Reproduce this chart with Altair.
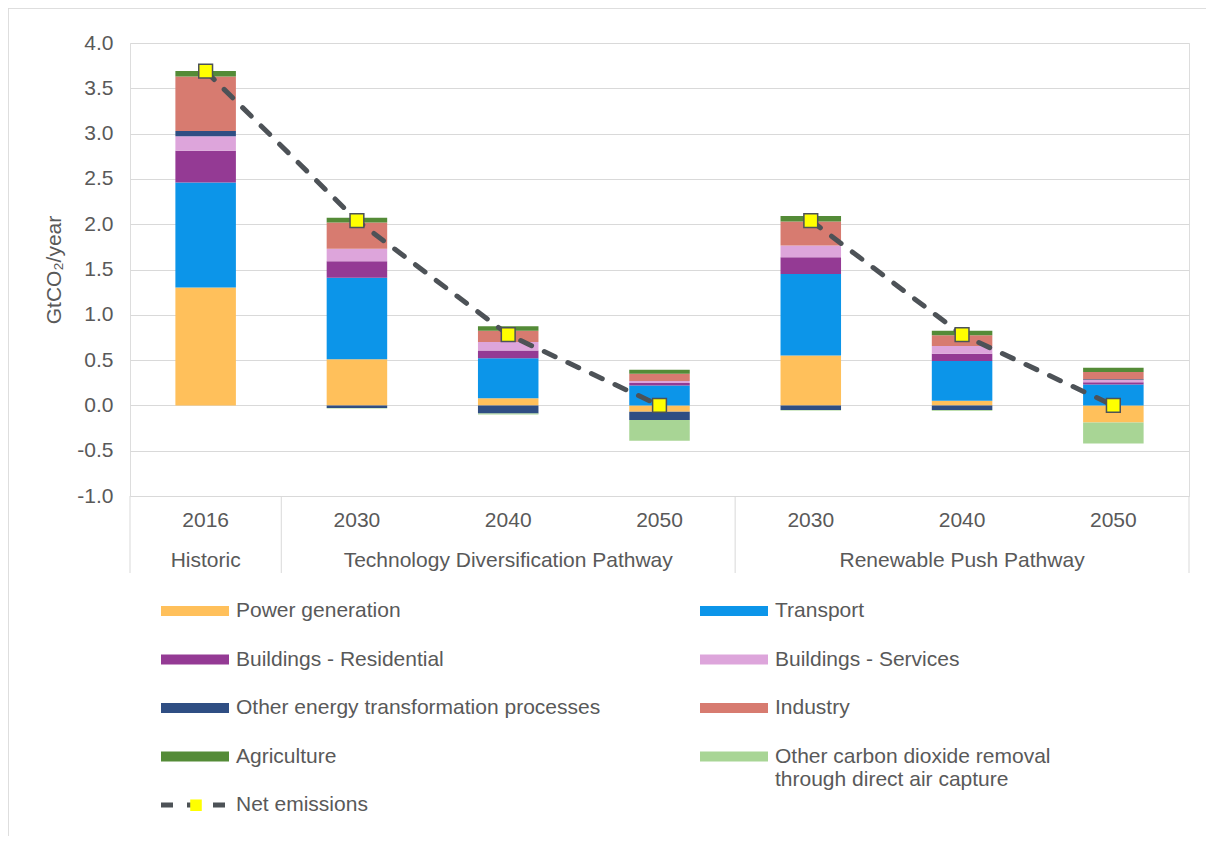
import altair as alt
import pandas as pd

# ---------------- data ----------------
categories = ["H2016", "T2030", "T2040", "T2050", "R2030", "R2040", "R2050"]
years = ["2016", "2030", "2040", "2050", "2030", "2040", "2050"]
groups = ["Historic", "Technology Diversification Pathway", "Renewable Push Pathway"]
group_center_cat = ["H2016", "T2040", "R2040"]
group_start_cat = ["H2016", "T2030", "R2030"]
group_end_cat = ["R2050"]

sectors = [
    "Power generation",
    "Transport",
    "Buildings - Residential",
    "Buildings - Services",
    "Other energy transformation processes",
    "Industry",
    "Agriculture",
    "Other carbon dioxide removal through direct air capture",
]
colors = ["#FFC05B", "#0C95E9", "#943A94", "#DDA5DB", "#2F4E83", "#D77B70", "#548B37", "#A8D595"]
# legend fills column by column: left column first, then right column
legend_order = [0, 2, 4, 6, 1, 3, 5, 7]

power = [1.30, 0.51, 0.08, -0.07, 0.55, 0.05, -0.19]
transport = [1.16, 0.90, 0.44, 0.22, 0.90, 0.44, 0.23]
residential = [0.35, 0.18, 0.085, 0.026, 0.185, 0.08, 0.025]
services = [0.16, 0.14, 0.095, 0.022, 0.13, 0.085, 0.025]
other_energy = [0.06, -0.03, -0.09, -0.09, -0.05, -0.05, 0.01]
industry = [0.60, 0.29, 0.125, 0.08, 0.265, 0.12, 0.08]
agriculture = [0.06, 0.05, 0.05, 0.045, 0.06, 0.05, 0.045]
dac = [0.0, -0.005, -0.01, -0.23, -0.005, -0.01, -0.23]

net = [3.69, 2.04, 0.78, 0.0, 2.04, 0.78, 0.0]
net_series = ["A", "A", "A", "A", "B", "B", "B"]

y_ticks = [-1.0, -0.5, 0.0, 0.5, 1.0, 1.5, 2.0, 2.5, 3.0, 3.5, 4.0]

# ---------------- tables ----------------
series_vals = [power, transport, residential, services, other_energy, industry, agriculture, dac]
rows = []
for i, c in enumerate(categories):
    for j, (s, vals) in enumerate(zip(sectors, series_vals)):
        rows.append({"cat": c, "sector": s, "idx": j, "value": vals[i]})
df = pd.DataFrame(rows)

net_df = pd.DataFrame({"cat": categories, "net": net, "series": net_series,
                       "lbl": ["Net emissions"] * len(categories),
                       "mk": ["marker"] * len(categories)})
year_df = pd.DataFrame({"cat": categories, "year": years})
group_df = pd.DataFrame({"cat": group_center_cat, "grp": groups})
start_df = pd.DataFrame({"cat": group_start_cat})
end_df = pd.DataFrame({"cat": group_end_cat})

# ---------------- styling ----------------
W, H = 1059, 453
FONT = "Liberation Sans"
TXT = "#595959"
GRID = "#D9D9D9"
DARK = "#4D5257"
FS = 21

x_scale = alt.Scale(domain=categories, paddingInner=0, paddingOuter=0)
y_scale = alt.Scale(domain=[-1, 4], nice=False, zero=False)
y_axis = alt.Axis(values=y_ticks, format=".1f", labelExpr="replace(datum.label, '\u2212', '-')",
                  labelFont=FONT, labelFontSize=FS, labelColor=TXT, labelPadding=17,
                  ticks=False, domain=False, gridColor=GRID, gridWidth=1,
                  title="GtCO\u2082/year", titleFont=FONT, titleFontSize=FS, titleFontWeight="normal",
                  titleColor=TXT, titlePadding=12)

def xenc(band_pos=None):
    if band_pos is None:
        return alt.X("cat:N", scale=x_scale, axis=None)
    return alt.X("cat:N", scale=x_scale, axis=None, bandPosition=band_pos)

LEG_X = 31
LEG_Y = 534
ROW = 48.5

bars = alt.Chart(df).mark_bar(width=alt.RelativeBandSize(0.4)).encode(
    x=xenc(),
    y=alt.Y("value:Q", stack="zero", scale=y_scale, axis=y_axis),
    color=alt.Color(
        "sector:N",
        scale=alt.Scale(domain=[sectors[k] for k in legend_order],
                        range=[colors[k] for k in legend_order]),
        legend=alt.Legend(
            title=None, orient="none", legendX=LEG_X, legendY=LEG_Y, columns=2,
            columnPadding=99, rowPadding=4.5, padding=0,
            symbolType="M-1,-0.15H1V0.15H-1Z", symbolSize=4624, symbolStrokeWidth=0,
            symbolOpacity=1, labelFont=FONT, labelFontSize=FS, labelColor=TXT,
            labelOffset=7, labelLimit=700,
            labelExpr="datum.label == 'Other carbon dioxide removal through direct air capture' ? "
                      "['Other carbon dioxide removal', 'through direct air capture'] : datum.label",
        ),
    ),
    order=alt.Order("idx:Q", sort="ascending"),
)

# symbol centre of the 5th legend row, relative to the plot origin
NET_CY = LEG_Y + 34 + 4 * ROW

line = alt.Chart(net_df).mark_line(strokeWidth=5, strokeCap="round", color=DARK).encode(
    x=xenc(),
    y=alt.Y("net:Q", scale=y_scale, axis=y_axis),
    detail="series:N",
    strokeDash=alt.StrokeDash(
        "lbl:N",
        scale=alt.Scale(domain=["Net emissions"], range=[[12, 14]]),
        legend=alt.Legend(
            title=None, orient="none", legendX=LEG_X - 2.5, legendY=NET_CY - 36.5, padding=0,
            symbolType="stroke", symbolSize=4624, symbolStrokeWidth=5, symbolStrokeColor=DARK,
            symbolDash=[13, 5.3], symbolDashOffset=0,
            symbolOpacity=1, labelFont=FONT, labelFontSize=FS, labelColor=TXT, labelOffset=4.5,
        ),
    ),
)

points = alt.Chart(net_df).mark_point(filled=True, fill="#FFFF00", stroke=DARK, strokeWidth=1.5,
                                      size=190, shape="square").encode(
    x=xenc(),
    y=alt.Y("net:Q", scale=y_scale, axis=y_axis),
    opacity=alt.Opacity(
        "mk:N",
        scale=alt.Scale(domain=["marker"], range=[1]),
        legend=alt.Legend(
            title=None, orient="none", legendX=LEG_X, legendY=NET_CY - 34.75, padding=0,
            symbolType="M-0.17,-0.17H0.17V0.17H-0.17Z", symbolSize=4624,
            symbolFillColor="#FFFF00", symbolStrokeColor=DARK, symbolStrokeWidth=1.5,
            labelFont=FONT, labelFontSize=FS, labelColor=TXT, labelOffset=7,
            labelExpr="''",
        ),
    ),
)

year_text = alt.Chart(year_df).mark_text(font=FONT, fontSize=FS, color=TXT, baseline="middle").encode(
    x=xenc(), y=alt.value(H + 25), text="year:N"
)
group_text = alt.Chart(group_df).mark_text(font=FONT, fontSize=FS, color=TXT, baseline="middle").encode(
    x=xenc(), y=alt.value(H + 65), text="grp:N"
)
sep_start = alt.Chart(start_df).mark_rule(color=GRID, strokeWidth=1).encode(
    x=xenc(0), y=alt.value(H), y2=alt.value(H + 77)
)
sep_end = alt.Chart(end_df).mark_rule(color=GRID, strokeWidth=1).encode(
    x=xenc(1), y=alt.value(H), y2=alt.value(H + 77)
)
frame_left = alt.Chart(start_df).mark_rule(color=GRID, strokeWidth=1).encode(
    x=alt.value(-122), y=alt.value(-35), y2=alt.value(H + 340)
)
frame_top = alt.Chart(start_df).mark_rule(color=GRID, strokeWidth=1).encode(
    x=alt.value(-122), x2=alt.value(W + 30), y=alt.value(-35)
)

chart = alt.layer(
    frame_left, frame_top, bars, line, points, year_text, group_text, sep_start, sep_end
).properties(
    width=W, height=H,
    autosize=alt.AutoSizeParams(type="none"),
    padding={"left": 122, "top": 35, "right": 17, "bottom": 340},
).configure_view(stroke=None).configure(font=FONT)

chart.save("out.html", embed_options={"renderer": "svg", "actions": False})
